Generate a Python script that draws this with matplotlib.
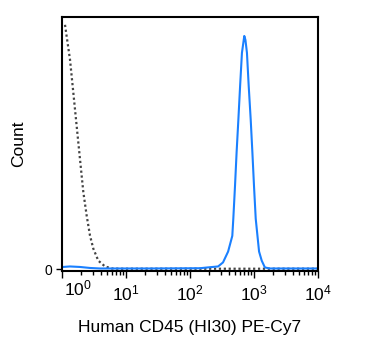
import numpy as np
import matplotlib
matplotlib.use("Agg")
import matplotlib.pyplot as plt

plt.rcParams["font.family"] = ["Liberation Sans", "DejaVu Sans"]
plt.rcParams["mathtext.fontset"] = "custom"
plt.rcParams["mathtext.rm"] = "Liberation Sans"
plt.rcParams["mathtext.it"] = "Liberation Sans"

# isotype control (dotted)
ctrl_x = [1.114, 1.334, 1.502, 1.697, 1.910, 2.153, 2.43, 2.74, 3.08, 3.69,
          4.70, 5.98, 8.06, 20, 100, 1000, 10000]
ctrl_y = [96.9, 83.1, 70.1, 56.7, 43.7, 30.7, 21.3, 13.4, 8.3, 3.5,
          1.2, 0.4, 0.3, 0.3, 0.3, 0.3, 0.3]

# CD45 stained (blue)
cd45_x = [1.04, 1.33, 1.91, 2.74, 3.93, 23.7, 143, 205, 275, 328, 394, 458,
          475, 505, 535, 570, 607, 648, 705, 735, 776, 826, 888, 943, 1000,
          1064, 1200, 1320, 1480, 1780, 10000]
cd45_y = [1.0, 1.2, 1.0, 0.6, 0.4, 0.4, 0.5, 0.9, 1.2, 2.8, 7.1, 13.3,
          20.1, 33.1, 46.5, 59.4, 72.8, 85.8, 92.5, 90.9, 85.8, 72.8, 59.4,
          46.5, 33.1, 20.1, 7.1, 3.5, 0.8, 0.4, 0.4]

xticks = [1, 10, 100, 1000, 10000]
xtick_labels = ["$10^{0}$", "$10^{1}$", "$10^{2}$", "$10^{3}$", "$10^{4}$"]

fig = plt.figure(figsize=(3.75, 3.55), dpi=100)
ax = fig.add_axes([62 / 375, 84 / 355, 256 / 375, 254 / 355])

ax.plot(ctrl_x, ctrl_y, color="#444444", linestyle=(0, (1, 1.2)), linewidth=1.6)
ax.plot(cd45_x, cd45_y, color="#1a80ff", linewidth=1.5)

ax.set_xscale("log")
ax.set_xlim(1, 10000)
ax.set_ylim(-0.6, 100)
ax.set_xticks(xticks)
# first label is drawn by hand, shifted right of the axis edge
ax.set_xticklabels([""] + xtick_labels[1:], fontsize=12.5)
ax.text(1.75, -0.03, xtick_labels[0], fontsize=12.5, ha="center", va="top",
        transform=ax.get_xaxis_transform())
ax.set_yticks([0])
ax.set_yticklabels(["0"], fontsize=10)

ax.tick_params(axis="x", which="major", length=5, width=1, direction="out", pad=4)
ax.tick_params(axis="x", which="minor", length=3, width=1, direction="out")
ax.tick_params(axis="y", length=4, width=1, pad=3)
for s in ax.spines.values():
    s.set_linewidth(1.5)

ax.set_xlabel("Human CD45 (HI30) PE-Cy7", fontsize=12.5, labelpad=12)
ax.set_ylabel("Count", fontsize=12.5, labelpad=13)

fig.savefig("out.png", dpi=100)
